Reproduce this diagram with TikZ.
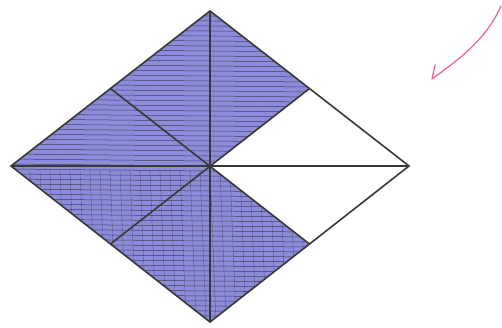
\documentclass[tikz,border=0pt]{standalone}
\definecolor{scribble}{RGB}{140,140,218}
\definecolor{stroke}{RGB}{70,70,180}
\definecolor{tick}{RGB}{238,104,150}
\tikzset{
  edge/.style={draw=black!78, line width=1.6pt},
  shade/.style={fill=scribble},
}
\begin{document}
\begin{tikzpicture}[x=1pt,y=-1pt]
        \useasboundingbox (0,0) rectangle (502,327);
        \coordinate (T) at (210,11);
        \coordinate (L) at (11,166);
        \coordinate (R) at (409,166);
        \coordinate (B) at (210,322);
        \coordinate (O) at (210,166);
        \coordinate (M1) at (110.5,88.5);
        \coordinate (M2) at (309.5,88.5);
        \coordinate (M3) at (309.5,244);
        \coordinate (M4) at (110.5,244);
        % blue scribble
        \begin{scope}
            \clip (T) -- (L) -- (B) -- (M3) -- (O) -- (M2) -- cycle;
            \fill[shade] (0,0) rectangle (420,327);
            \foreach \y in {14,19,...,320} {
                \draw[stroke, line width=0.5pt, opacity=0.55]
                    (10,\y) -- (410,\y+4);
            }
            \foreach \x in {30,40,...,300} {
                \draw[stroke, line width=0.4pt, opacity=0.35]
                    (\x,170) -- (\x+6,320);
            }
        \end{scope}
        \draw[edge] (T) -- (R) -- (B) -- (L) -- cycle;
        \draw[edge] (T) -- (B);
        \draw[edge] (L) -- (R);
        \draw[edge] (M1) -- (M3);
        \draw[edge] (M2) -- (M4);
        \draw[tick, line width=1.3pt, line cap=round, line join=round]
            (435,65) -- (432,79) .. controls (458,60) and (486,40) .. (501,6);
    \end{tikzpicture}
\end{document}
